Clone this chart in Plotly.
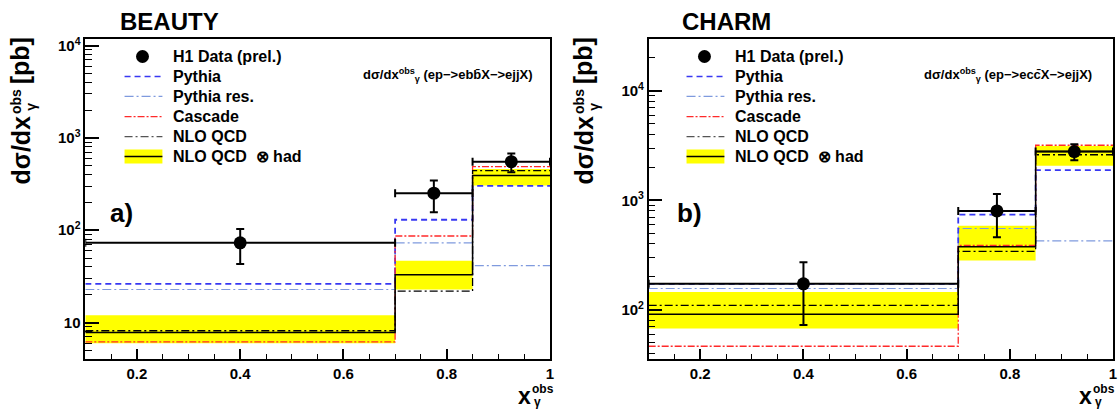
import plotly.graph_objects as go

W, H = 1119, 410
FONT = "Liberation Sans, Arial, Helvetica, sans-serif"

# ---------------- data ----------------
bin_edges = [0.1, 0.7, 0.85, 1.0]

# BEAUTY
b_data = [73, 252, 553]
b_data_err = [30, 95, 127]
b_pythia = [26.2, 130, 303]
b_pythia_res = [22.8, 73, 41.3]
b_cascade = [6.16, 86.6, 489]
b_nlo = [8.15, 21.9, 443]
b_nlo_had = [7.8, 33, 391]
b_band_lo = [5.95, 22.8, 305]
b_band_hi = [12.0, 46.7, 460]

# CHARM
c_data = [173, 801, 2790]
c_data_err = [100, 340, 460]
c_pythia = [173, 742, 1892]
c_pythia_res = [157, 554, 427]
c_cascade = [46.6, 389, 3185]
c_nlo = [110, 343, 2608]
c_nlo_had = [91.5, 377, 2792]
c_band_lo = [67.8, 283, 2074]
c_band_hi = [146, 586, 3143]

legend_labels = ["H1 Data (prel.)", "Pythia", "Pythia res.", "Cascade", "NLO QCD", "NLO QCD  \u2297 had"]

COL_PYTHIA = "#3838f2"
COL_PRES = "#7f9ade"
COL_CASC = "#ff2a2a"
COL_NLO = "#000000"
COL_BAND = "#ffff00"

DASH_PYTHIA = "6px,4px"
DASH_PRES = "9px,3px,2px,3px"
DASH_CASC = "7px,2px,2px,2px"
DASH_NLO = "8px,3px,2px,3px"

fig = go.Figure()


def px_x(x):
    return x / W


def px_y(y):
    return 1 - y / H


def steps(vals):
    return bin_edges, list(vals) + [vals[-1]]


def band_xy(lo, hi):
    xs, ys = [], []
    for i in range(len(lo)):
        x0, x1 = bin_edges[i], bin_edges[i + 1]
        xs += [x0, x1, x1, x0, x0, None]
        ys += [lo[i], lo[i], hi[i], hi[i], lo[i], None]
    return xs, ys


def add_panel(xa, ya, data, err, pythia, pres, casc, nlo, nlohad, blo, bhi):
    bx, by = band_xy(blo, bhi)
    fig.add_trace(go.Scatter(x=bx, y=by, fill="toself", fillcolor=COL_BAND,
                             line=dict(width=0), mode="lines", xaxis=xa, yaxis=ya,
                             showlegend=False, hoverinfo="skip"))
    for vals, col, dash, w in [(pres, COL_PRES, DASH_PRES, 1.2),
                               (pythia, COL_PYTHIA, DASH_PYTHIA, 1.8),
                               (casc, COL_CASC, DASH_CASC, 1.3),
                               (nlo, COL_NLO, DASH_NLO, 1.3),
                               (nlohad, "#000000", "solid", 1.5)]:
        sx, sy = steps(vals)
        fig.add_trace(go.Scatter(x=sx, y=sy, mode="lines", line_shape="hv",
                                 line=dict(color=col, dash=dash, width=w),
                                 xaxis=xa, yaxis=ya, showlegend=False, hoverinfo="skip"))
    centers = [(bin_edges[i] + bin_edges[i + 1]) / 2 for i in range(len(data))]
    halfw = [(bin_edges[i + 1] - bin_edges[i]) / 2 for i in range(len(data))]
    fig.add_trace(go.Scatter(x=centers, y=data, mode="markers",
                             marker=dict(color="black", size=13, symbol="circle"),
                             error_y=dict(type="data", array=err, color="black", thickness=2, width=4),
                             error_x=dict(type="data", array=halfw, color="black", thickness=2, width=4),
                             xaxis=xa, yaxis=ya, showlegend=False, hoverinfo="skip"))


add_panel("x", "y", b_data, b_data_err, b_pythia, b_pythia_res, b_cascade, b_nlo, b_nlo_had,
          b_band_lo, b_band_hi)
add_panel("x2", "y2", c_data, c_data_err, c_pythia, c_pythia_res, c_cascade, c_nlo, c_nlo_had,
          c_band_lo, c_band_hi)

minor_log = [k * 10 ** d for d in range(0, 5) for k in range(2, 10)]
tickfont = dict(family=FONT, size=15, color="black", weight="bold")

xcommon = dict(range=[0.1, 1.0], tick0=0, dtick=0.2, ticks="inside", ticklen=10, tickwidth=1.5,
               tickcolor="black", showline=True, linewidth=1.5, linecolor="black", mirror=True,
               showgrid=False, zeroline=False, tickfont=tickfont, ticklabelstandoff=0,
               minor=dict(ticks="inside", ticklen=5, tickwidth=1, tickcolor="black", dtick=0.05, tick0=0,
                          showgrid=False))
ycommon = dict(type="log", ticks="inside", ticklen=14, tickwidth=1.5, tickcolor="black",
               showline=True, linewidth=1.5, linecolor="black", mirror=True, showgrid=False,
               zeroline=False, tickfont=tickfont,
               tickvals=[10, 100, 1000, 10000],
               ticktext=["10", "10<sup>2</sup>", "10<sup>3</sup>", "10<sup>4</sup>"],
               minor=dict(ticks="inside", ticklen=7, tickwidth=1, tickcolor="black",
                          tickvals=minor_log, showgrid=False))

ydom = [px_y(358.3), px_y(35)]
fig.update_layout(
    width=W, height=H, margin=dict(l=0, r=0, t=0, b=0),
    paper_bgcolor="white", plot_bgcolor="white", showlegend=False,
    xaxis=dict(domain=[px_x(85.6), px_x(552)], anchor="y", **xcommon),
    yaxis=dict(domain=ydom, anchor="x", range=[0.607, 4.076], **ycommon),
    xaxis2=dict(domain=[px_x(651), px_x(1117)], anchor="y2", **xcommon),
    yaxis2=dict(domain=ydom, anchor="x2", range=[1.554, 4.476], **ycommon),
)

annotations = []
shapes = []


def txt(x, y, s, size, xanchor="center", yanchor="middle", angle=0, bold=True):
    annotations.append(dict(x=px_x(x), y=px_y(y), xref="paper", yref="paper", text=s,
                            showarrow=False, xanchor=xanchor, yanchor=yanchor, textangle=angle,
                            font=dict(family=FONT, size=size, color="black",
                                      weight="bold" if bold else "normal")))


for dx, title, proc, lab in [(0, "BEAUTY", "ebb\u0304X", "a)"), (565, "CHARM", "ecc\u0304X", "b)")]:
    # panel title
    txt(170 + dx + (0 if dx == 0 else -5.5), 18, title, 24)
    # y-axis title pieces (rotated)
    txt(21 + dx, 147, "d\u03c3/dx", 25, angle=-90)
    txt(16 + dx, 98, "obs", 14, angle=-90)
    txt(31 + dx, 104, "\u03b3", 14, angle=-90)
    txt(21 + dx, 57, "[pb]", 25, angle=-90)
    # x-axis title
    tx = 526 + (0 if dx == 0 else 563)
    txt(tx, 396, "x", 23)
    txt(tx + 19, 389, "obs", 12)
    txt(tx + 13, 402, "\u03b3", 12)
    # panel label
    txt(122 + dx + (0 if dx == 0 else 5), 211, lab, 26)
    # process annotation
    txt(362 + dx + (0 if dx == 0 else -2), 72,
        "d\u03c3/dx<sup>obs</sup><sub>\u03b3</sub> (ep\u2212>" + proc + "\u2212>ejjX)", 13, xanchor="left")

    # manual legend
    lx0 = 125 + dx - (0 if dx == 0 else 1)
    lx1 = lx0 + 38
    rows = [53, 73.3, 93.3, 113.7, 134, 154]
    mx = lx0 + 18
    shapes.append(dict(type="circle", xref="paper", yref="paper",
                       x0=px_x(mx - 6.5), x1=px_x(mx + 6.5), y0=px_y(rows[0] + 6.5), y1=px_y(rows[0] - 6.5),
                       fillcolor="black", line=dict(color="black", width=0)))
    for r, col, dash, w in [(rows[1], COL_PYTHIA, DASH_PYTHIA, 1.5), (rows[2], COL_PRES, DASH_PRES, 1.2),
                            (rows[3], COL_CASC, DASH_CASC, 1.3), (rows[4], "#555555", DASH_NLO, 1.3)]:
        shapes.append(dict(type="line", xref="paper", yref="paper", x0=px_x(lx0), x1=px_x(lx1),
                           y0=px_y(r), y1=px_y(r), line=dict(color=col, dash=dash, width=w)))
    shapes.append(dict(type="rect", xref="paper", yref="paper", x0=px_x(lx0), x1=px_x(lx1),
                       y0=px_y(rows[5] + 7), y1=px_y(rows[5] - 7), fillcolor=COL_BAND, line=dict(width=0)))
    shapes.append(dict(type="line", xref="paper", yref="paper", x0=px_x(lx0), x1=px_x(lx1),
                       y0=px_y(rows[5]), y1=px_y(rows[5]), line=dict(color="black", width=1.5)))
    for r, lbl in zip(rows, legend_labels):
        txt(lx0 + 47, r, lbl, 16, xanchor="left")

fig.update_layout(annotations=annotations, shapes=shapes)
# remove the browser's default 8px page margin so the 1119x410 figure fills the window exactly
fig.write_html("out.html",
               config={"displayModeBar": False},
               post_script="document.body.style.margin='0';document.body.style.overflow='hidden';")
